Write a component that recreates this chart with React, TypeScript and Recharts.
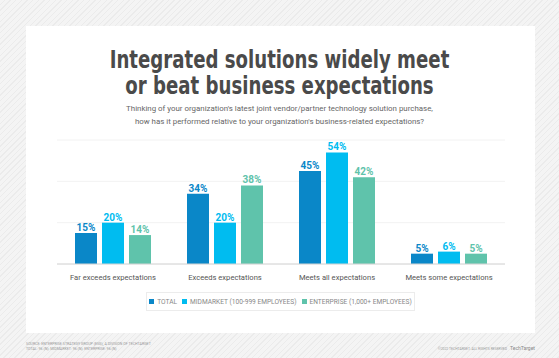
import React from "react";
import { Bar, BarChart, CartesianGrid, LabelList, XAxis, YAxis } from "recharts";

const categories = [
  "Far exceeds expectations",
  "Exceeds expectations",
  "Meets all expectations",
  "Meets some expectations",
];
const total = [15, 34, 45, 5];
const midmarket = [20, 20, 54, 6];
const enterprise = [14, 38, 42, 5];
const yTicks = [0, 10, 20, 30, 40, 50, 60];

const series = [
  { key: "total", name: "TOTAL", color: "#0a87c8" },
  { key: "midmarket", name: "MIDMARKET (100-999 EMPLOYEES)", color: "#00bcf0" },
  { key: "enterprise", name: "ENTERPRISE (1,000+ EMPLOYEES)", color: "#5fc3ab" },
];

const data = categories.map((c, i) => ({
  name: c,
  total: total[i],
  midmarket: midmarket[i],
  enterprise: enterprise[i],
}));

const font = "Roboto, 'Liberation Sans', sans-serif";

export default function App() {
  return (
    <div
      style={{
        position: "absolute",
        left: 0,
        top: 0,
        width: 559,
        height: 358,
        overflow: "hidden",
        fontFamily: font,
        background:
          "repeating-linear-gradient(135deg, #f4f4f4 0px, #f4f4f4 3px, #ebebeb 3px, #ebebeb 4px)",
      }}
    >
      <div style={{ position: "absolute", left: 26, top: 26, width: 509, height: 307, background: "#fff" }} />

      <div
        style={{
          position: "absolute",
          left: 0,
          top: 47,
          width: 559,
          textAlign: "center",
          fontFamily: "'DejaVu Sans Condensed', sans-serif",
          fontWeight: 700,
          fontSize: 24,
          lineHeight: "26px",
          color: "#4a4a4a",
          transform: "scaleX(0.84)",
          transformOrigin: "center",
        }}
      >
        Integrated solutions widely meet
        <br />
        or beat business expectations
      </div>
      <div
        style={{
          position: "absolute",
          left: 0,
          top: 103,
          width: 559,
          textAlign: "center",
          fontSize: 7.9,
          lineHeight: "12.5px",
          color: "#666",
        }}
      >
        Thinking of your organization's latest joint vendor/partner technology solution purchase,
        <br />
        how has it performed relative to your organization's business-related expectations?
      </div>

      <div style={{ position: "absolute", left: 0, top: 0 }}>
        <BarChart
          width={559}
          height={358}
          data={data}
          margin={{ top: 140, right: 54, bottom: 64, left: 57 }}
          barCategoryGap={18}
          barGap={5}
        >
          <CartesianGrid vertical={false} stroke="#f2f2f2" />
          <YAxis hide domain={[0, 60]} ticks={yTicks} />
          <XAxis
            dataKey="name"
            height={30}
            axisLine={{ stroke: "#d4d4d4" }}
            tickLine={false}
            tick={{ fill: "#555", fontSize: 7.6, fontFamily: font }}
            tickMargin={5}
            interval={0}
          />
          {series.map((s) => (
            <Bar key={s.key} dataKey={s.key} name={s.name} fill={s.color} isAnimationActive={false}>
              <LabelList
                dataKey={s.key}
                position="top"
                offset={2}
                formatter={(v: number) => `${v}%`}
                style={{ fill: s.color, fontSize: 10, fontWeight: 700, fontFamily: font }}
              />
            </Bar>
          ))}
        </BarChart>
      </div>

      <div
        style={{
          position: "absolute",
          left: 146,
          top: 292,
          width: 267,
          height: 17,
          border: "1px solid #ececec",
          display: "flex",
          alignItems: "center",
          justifyContent: "center",
          gap: 5,
          fontSize: 6.6,
          color: "#888",
          whiteSpace: "nowrap",
        }}
      >
        {series.map((s) => (
          <span key={s.key} style={{ display: "flex", alignItems: "center" }}>
            <span style={{ width: 5, height: 5, background: s.color, marginRight: 3, display: "inline-block" }} />
            {s.name}
          </span>
        ))}
      </div>

      <div style={{ position: "absolute", left: 26, top: 342, fontSize: 3.6, lineHeight: "5px", color: "#999" }}>
        SOURCE: ENTERPRISE STRATEGY GROUP (ESG), A DIVISION OF TECHTARGET
        <br />
        TOTAL: 96 (N); MIDMARKET: 96 (N); ENTERPRISE: 96 (N)
      </div>
      <div
        style={{
          position: "absolute",
          right: 52,
          top: 347,
          fontSize: 3.4,
          color: "#999",
          whiteSpace: "nowrap",
        }}
      >
        ©2022 TECHTARGET. ALL RIGHTS RESERVED
      </div>
      <div style={{ position: "absolute", left: 510, top: 345, fontSize: 5, color: "#888" }}>TechTarget</div>
    </div>
  );
}
